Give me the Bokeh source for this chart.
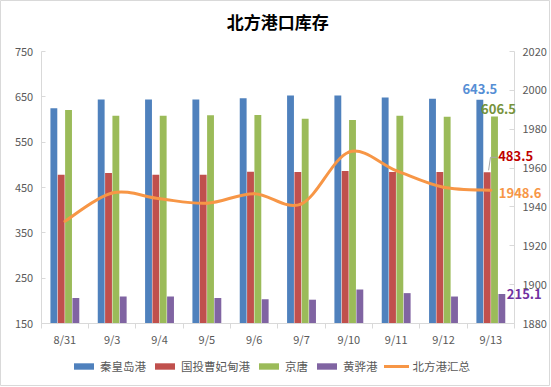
from bokeh.plotting import figure
from bokeh.models import Range1d, LinearAxis, FixedTicker, Legend, LegendItem, Label
from bokeh.embed import file_html
from bokeh.resources import INLINE

# ---------------- data ----------------
categories = ["8/31", "9/3", "9/4", "9/5", "9/6", "9/7", "9/10", "9/11", "9/12", "9/13"]
qinhuangdao = [625, 644, 644, 644, 647, 653, 653, 648.5, 646, 643.5]
caofeidian = [478, 482, 478, 478, 484.5, 484, 486.5, 484, 484, 483.5]
jingtang = [621, 608, 608, 609.5, 610, 601.5, 599, 608, 606, 606.5]
huanghua = [206, 209.5, 209.5, 206, 203.5, 202.5, 225, 217, 209.5, 215.1]
total = [1932.6, 1947.2, 1944.2, 1941.9, 1946.8, 1941.6, 1968.2, 1958.7, 1950.1, 1948.6]
series_names = ["秦皇岛港", "国投曹妃甸港", "京唐", "黄骅港", "北方港汇总"]
left_ticks = [150, 250, 350, 450, 550, 650, 750]
right_ticks = [1880, 1900, 1920, 1940, 1960, 1980, 2000, 2020]
title_text = "北方港口库存"

# ---------------- style / layout ----------------
FONT = "Noto Sans CJK SC"
colors = ["#4F81BD", "#C0504D", "#9BBB59", "#8064A2", "#F79646"]
label_colors = ["#558ED5", "#C00000", "#77933C", "#7030A0", "#F79646"]
AX = "#D9D9D9"
TXT = "#595959"

W, H = 550, 386
PL, PR = 40.7, 514.0      # plot area left/right inside the canvas (px)
PT, PB = 51.0, 323.0      # plot area top/bottom inside the canvas (px)

n = len(categories)
centers = [i + 0.5 for i in range(n)]

cat_px = (PR - PL) / n
x0 = -PL / cat_px
x1 = x0 + W / cat_px
lpx = (PB - PT) / (left_ticks[-1] - left_ticks[0])
rpx = (PB - PT) / (right_ticks[-1] - right_ticks[0])
ly0 = left_ticks[0] - (H - PB) / lpx
ly1 = left_ticks[-1] + PT / lpx
ry0 = right_ticks[0] - (H - PB) / rpx
ry1 = right_ticks[-1] + PT / rpx

p = figure(width=W, height=H, output_backend="svg", toolbar_location=None,
           x_range=Range1d(x0, x1), y_range=Range1d(ly0, ly1),
           min_border_left=0, min_border_right=0, min_border_top=0, min_border_bottom=0)
p.extra_y_ranges = {"right": Range1d(ry0, ry1)}
p.outline_line_color = AX
p.xgrid.visible = False
p.ygrid.visible = False
p.background_fill_color = "white"
p.border_fill_color = "white"

# x axis
xa = p.xaxis[0]
xa.fixed_location = left_ticks[0]
xa.bounds = (0, n)
xa.ticker = FixedTicker(ticks=centers, minor_ticks=list(range(n + 1)))
xa.major_label_overrides = {c: lab for c, lab in zip(centers, categories)}
xa.major_tick_line_color = None
xa.minor_tick_line_color = AX
xa.minor_tick_in = 0
xa.minor_tick_out = 5
xa.axis_line_color = AX
xa.major_label_standoff = 1
xa.major_label_text_font = FONT
xa.major_label_text_font_size = "11px"
xa.major_label_text_color = TXT

# left axis
ya = p.yaxis[0]
ya.fixed_location = 0
ya.bounds = (left_ticks[0], left_ticks[-1])
ya.ticker = FixedTicker(ticks=left_ticks, minor_ticks=[])
ya.axis_line_color = AX
ya.major_tick_line_color = AX
ya.major_tick_in = 4
ya.major_tick_out = 0
ya.minor_tick_line_color = None
ya.major_label_standoff = 8
ya.major_label_text_font = FONT
ya.major_label_text_font_size = "11px"
ya.major_label_text_color = TXT

# right axis
ra = LinearAxis(y_range_name="right", ticker=FixedTicker(ticks=right_ticks, minor_ticks=[]))
ra.fixed_location = n
ra.bounds = (right_ticks[0], right_ticks[-1])
ra.axis_line_color = AX
ra.major_tick_line_color = AX
ra.major_tick_in = 5
ra.major_tick_out = 0
ra.minor_tick_line_color = None
ra.major_label_standoff = 8
ra.major_label_text_font = FONT
ra.major_label_text_font_size = "11px"
ra.major_label_text_color = TXT
p.add_layout(ra, "right")

# bars
bar_series = [qinhuangdao, caofeidian, jingtang, huanghua]
offsets = [-0.2325, -0.0775, 0.0775, 0.2325]
bar_w = 0.145
renderers = []
for vals, off, col in zip(bar_series, offsets, colors):
    r = p.vbar(x=[c + off for c in centers], top=vals, bottom=left_ticks[0], width=bar_w,
               fill_color=col, line_color=None)
    renderers.append(r)

# smoothed total line (bezier segments through data points)
bx0, by0, bx1, by1, cx0, cy0, cx1, cy1 = [], [], [], [], [], [], [], []
for i in range(n - 1):
    a = max(i - 1, 0)
    d = min(i + 2, n - 1)
    xa0, ya0 = centers[a], total[a]
    xb, yb = centers[i], total[i]
    xc, yc = centers[i + 1], total[i + 1]
    xd, yd = centers[d], total[d]
    bx0.append(xb); by0.append(yb); bx1.append(xc); by1.append(yc)
    cx0.append(xb + (xc - xa0) / 6.0); cy0.append(yb + (yc - ya0) / 6.0)
    cx1.append(xc - (xd - xb) / 6.0); cy1.append(yc - (yd - yb) / 6.0)
line_r = p.bezier(x0=bx0, y0=by0, x1=bx1, y1=by1, cx0=cx0, cy0=cy0, cx1=cx1, cy1=cy1,
                  y_range_name="right", line_color=colors[4], line_width=3, line_cap="round")
renderers.append(line_r)

# legend (screen position measured from the canvas bottom-left)
items = [LegendItem(label=nm, renderers=[r]) for nm, r in zip(series_names, renderers)]
legend = Legend(items=items, orientation="horizontal", location=(71, 12),
                glyph_width=25, glyph_height=8, label_height=14, label_width=10,
                label_standoff=4, spacing=6, padding=0, margin=0,
                border_line_color=None, background_fill_alpha=0,
                label_text_font=FONT, label_text_font_size="11.5px", label_text_color=TXT)
p.add_layout(legend, "center")

# title
p.add_layout(Label(x=n / 2.0, y=left_ticks[-1], y_offset=30, text=title_text,
                   text_font=FONT, text_font_size="17px", text_font_style="bold",
                   text_color="#000000", text_align="center", text_baseline="middle"))

# data labels for last point
last = n - 1
lab_kw = dict(text_font=FONT, text_font_size="13px", text_font_style="bold", text_baseline="middle")
p.add_layout(Label(x=centers[last] + offsets[0], y=qinhuangdao[last], y_offset=11,
                   text=f"{qinhuangdao[last]:.1f}", text_color=label_colors[0], text_align="center", **lab_kw))
p.add_layout(Label(x=centers[last] + offsets[2], y=jingtang[last], x_offset=4, y_offset=8,
                   text=f"{jingtang[last]:.1f}", text_color=label_colors[2], text_align="center", **lab_kw))
p.add_layout(Label(x=centers[last] + offsets[1], y=caofeidian[last], x_offset=11, y_offset=16,
                   text=f"{caofeidian[last]:.1f}", text_color=label_colors[1], text_align="left", **lab_kw))
p.add_layout(Label(x=centers[last], y=total[last], y_range_name="right", x_offset=8, y_offset=-3,
                   text=f"{total[last]:.1f}", text_color=label_colors[4], text_align="left", **lab_kw))
p.add_layout(Label(x=centers[last] + offsets[3], y=huanghua[last], x_offset=5, y_offset=0,
                   text=f"{huanghua[last]:.1f}", text_color=label_colors[3], text_align="left", **lab_kw))

# leader line for the 国投曹妃甸港 label
lx = centers[last] + offsets[1]
p.line(x=[lx + 0.03, lx + 0.07, lx + 0.22],
       y=[caofeidian[last] + 2 / lpx, caofeidian[last] + 15 / lpx, caofeidian[last] + 15 / lpx],
       line_color="#A6A6A6", line_width=1)

open("out.html", "w").write(file_html(p, INLINE))
